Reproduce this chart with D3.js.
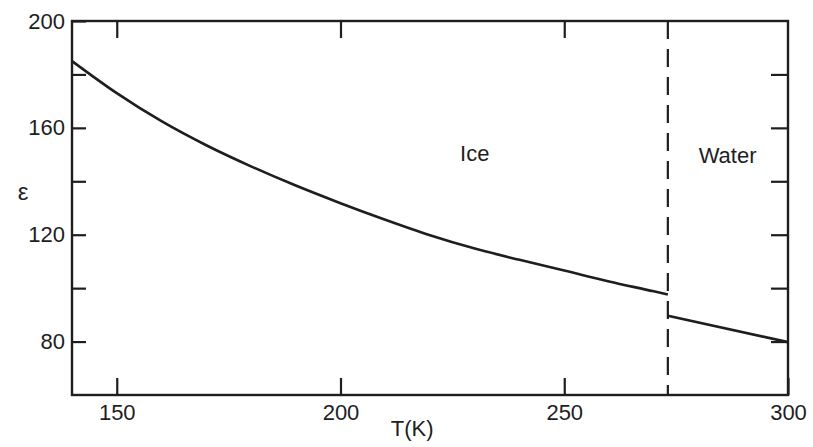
<!DOCTYPE html>
<html>
<head>
<meta charset="utf-8">
<script src="https://cdn.jsdelivr.net/npm/d3@7"></script>
<style>
  body { margin: 0; background: #fff; }
  svg { display: block; }
</style>
</head>
<body>
<svg id="chart" width="813" height="447"></svg>
<script>
// ice branch
var iceT   = [140, 150, 160, 170, 180, 190, 200, 210, 220, 230, 240, 250, 260, 270, 273.15];
var iceEps = [185, 173, 162.5, 153.5, 145.6, 138.4, 131.8, 125.6, 119.8, 114.8, 110.6, 106.6, 102.5, 98.8, 97.6];
// water branch
var waterT   = [273.15, 300];
var waterEps = [89.7, 79.8];

var meltT = 273.15;
var xTicks = [150, 200, 250, 300];
var yTicks = [80, 100, 120, 140, 160, 180, 200];
var yLabels = [80, 120, 160, 200];
var regionLabels = [
    { t: 230, eps: 147.5, text: "Ice" },
    { t: 286.5, eps: 147, text: "Water" }
];

var svg = d3.select("#chart");
var ink = "#1e1e1e";
var font = "'Liberation Sans', Arial, sans-serif";

var margins = { top: 21, bottom: 52, left: 72, right: 25 };
var width = 813 - margins.left - margins.right;
var height = 447 - margins.top - margins.bottom;

var x = d3.scaleLinear().domain([140, 300]).range([0, width]);
var y = d3.scaleLinear().domain([60, 200]).range([height, 0]);

var g = svg.append("g")
    .attr("transform", "translate(" + margins.left + "," + margins.top + ")");

// frame
g.append("rect")
    .attr("width", width)
    .attr("height", height)
    .attr("fill", "none")
    .attr("stroke", ink)
    .attr("stroke-width", 2.4);

function styleAxis(sel) {
    sel.select(".domain").remove();
    sel.selectAll(".tick line").attr("stroke", ink).attr("stroke-width", 2.2);
    sel.selectAll(".tick text")
        .attr("fill", ink)
        .style("font-family", font)
        .style("font-size", "22px");
}

// bottom / top
g.append("g")
    .attr("transform", "translate(0," + height + ")")
    .call(d3.axisBottom(x).tickValues(xTicks).tickSize(-17).tickPadding(9).tickFormat(d3.format("d")))
    .call(styleAxis);
g.append("g")
    .call(d3.axisTop(x).tickValues(xTicks.slice(0, 3)).tickSize(-17).tickFormat(""))
    .call(styleAxis);

// left / right
g.append("g")
    .call(d3.axisLeft(y).tickValues(yTicks).tickSize(-14).tickPadding(7)
        .tickFormat(d => yLabels.indexOf(d) >= 0 ? d : ""))
    .call(styleAxis);
g.append("g")
    .attr("transform", "translate(" + width + ",0)")
    .call(d3.axisRight(y).tickValues(yTicks.slice(0, 6)).tickSize(-17).tickFormat(""))
    .call(styleAxis);

// melting point
g.append("line")
    .attr("x1", x(meltT)).attr("x2", x(meltT))
    .attr("y1", 0).attr("y2", height)
    .attr("stroke", ink)
    .attr("stroke-width", 2.2)
    .attr("stroke-dasharray", "18,10");

var line = d3.line()
    .x(d => x(d[0]))
    .y(d => y(d[1]))
    .curve(d3.curveMonotoneX);

g.append("path")
    .datum(d3.zip(iceT, iceEps))
    .attr("d", line)
    .attr("fill", "none")
    .attr("stroke", ink)
    .attr("stroke-width", 2.6);

g.append("path")
    .datum(d3.zip(waterT, waterEps))
    .attr("d", line)
    .attr("fill", "none")
    .attr("stroke", ink)
    .attr("stroke-width", 2.6);

g.selectAll(".region")
    .data(regionLabels)
    .enter().append("text")
    .attr("class", "region")
    .attr("x", d => x(d.t))
    .attr("y", d => y(d.eps))
    .attr("text-anchor", "middle")
    .attr("fill", ink)
    .style("font-family", font)
    .style("font-size", "22px")
    .text(d => d.text);

// axis titles
svg.append("text")
    .attr("x", margins.left + x(216))
    .attr("y", 436)
    .attr("text-anchor", "middle")
    .attr("fill", ink)
    .style("font-family", font)
    .style("font-size", "22px")
    .text("T(K)");

svg.append("text")
    .attr("x", 23)
    .attr("y", 200)
    .attr("text-anchor", "middle")
    .attr("fill", ink)
    .style("font-family", font)
    .style("font-size", "24px")
    .text("ε");
</script>
</body>
</html>
